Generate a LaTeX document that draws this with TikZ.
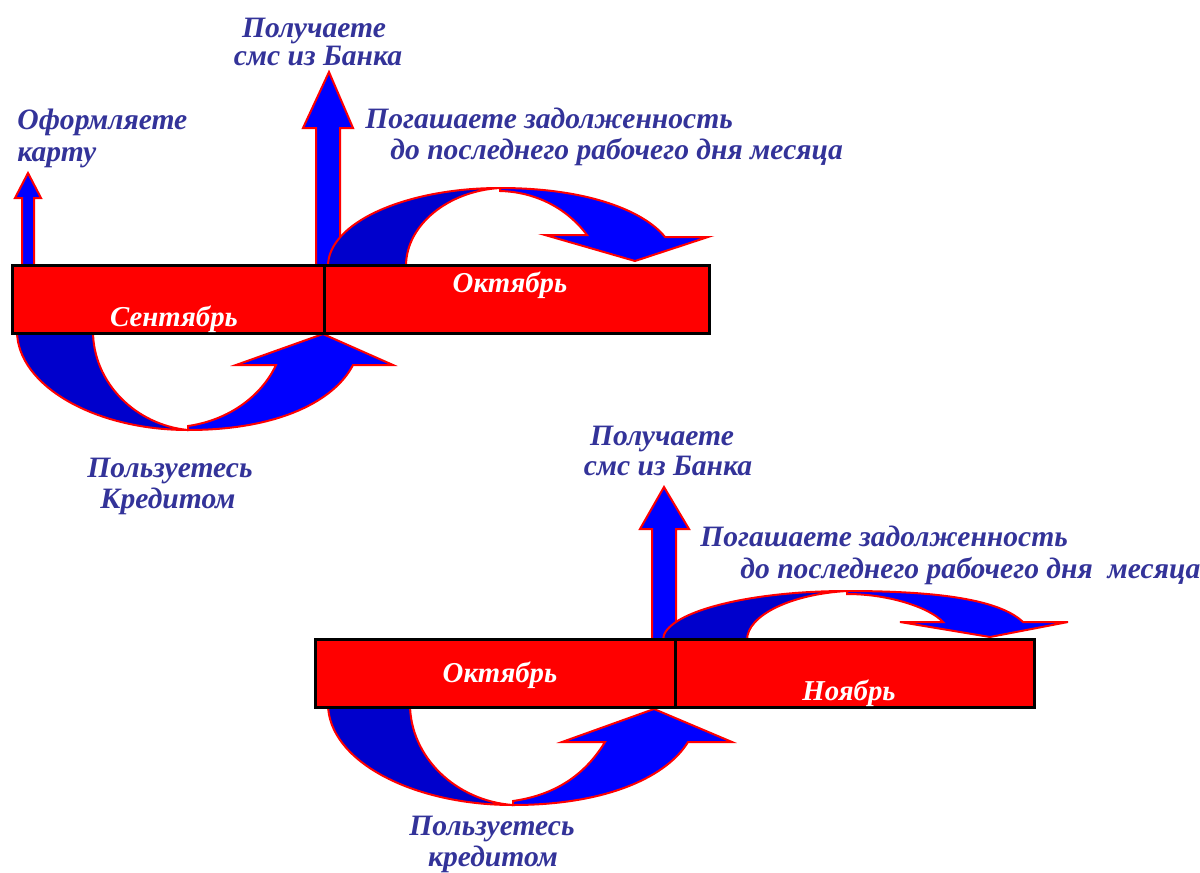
\documentclass[tikz,border=0pt]{standalone}
\usepackage{fontspec}
\setmainfont{Liberation Serif}
\usetikzlibrary{positioning}
\definecolor{barred}{HTML}{FF0000}
\definecolor{darkpart}{HTML}{0000CC}
\definecolor{brightpart}{HTML}{0000FF}
\definecolor{textblue}{HTML}{333399}
\tikzset{
    every node/.style={font=\bfseries\itshape\fontsize{14.8}{16}\selectfont,inner sep=0pt},
    month bar/.style={draw=black,line width=1.25pt,fill=barred,minimum height=34pt,anchor=north west},
    month name/.style={text=white,anchor=base,font=\bfseries\itshape\fontsize{14.4}{16}\selectfont},
    note/.style={text=textblue},
    back part/.style={fill=darkpart,draw=barred,line width=1pt},
    front part/.style={fill=brightpart,draw=barred,line width=1pt}
}

\begin{document}
\begin{tikzpicture}[x=0.5pt,y=-0.5pt]
    \useasboundingbox (0,0) rectangle (1200,873);

        % September - October
        \draw[front part] (22,266) -- (22,198) -- (15,198) -- (28,173) -- (41,198) -- (34,198) -- (34,266) -- cycle;
        \draw[front part] (316,266) -- (316,128) -- (303,128) -- (329,72) -- (353,128) -- (340,128) -- (340,266) -- cycle;
        \draw[back part] (328,266) .. controls (328,223) and (405,188) .. (500,188) .. controls (448,191) and (406,225) .. (406,266) -- cycle;
        \draw[front part] (500,188) .. controls (590,188) and (645,212) .. (665,237) -- (708,237) -- (635,261) -- (545,235) -- (587,235) .. controls (570,212) and (540,192) .. (500,191) -- cycle;
        \draw[back part] (17,331) .. controls (17,385) and (94,430) .. (188,430) .. controls (136,425) and (93,383) .. (93,331) -- cycle;
        \draw[front part] (188,430) .. controls (280,430) and (335,400) .. (353,365) -- (393,365) -- (323,334) -- (236,365) -- (276,365) .. controls (262,395) and (230,420) .. (188,426) -- cycle;

        \node[month bar, minimum width=156pt] (sep) at (11,264) {};
        \node[month bar, minimum width=192.5pt, right=-1.25pt of sep] (oct) {};
        \node[month name] (sepname) at (174,326) {Сентябрь};
        \node[month name] (octname) at (510,292) {Октябрь};

        \node[note, anchor=base west] (card1) at (17,129) {Оформляете};
        \node[note, anchor=base west] (card2) at (17,161) {карту};
        \node[note, anchor=base] (sms1) at (314,37) {Получаете};
        \node[note, anchor=base] (sms2) at (318,65) {смс из Банка};
        \node[note, anchor=base west] (pay1) at (365,128) {Погашаете задолженность};
        \node[note, anchor=base west] (pay2) at (390,159) {до последнего рабочего дня месяца};
        \node[note, anchor=base] (use1) at (170,477) {Пользуетесь};
        \node[note, anchor=base] (use2) at (168,508) {Кредитом};

        % October - November
        \draw[front part] (652,640) -- (652,529) -- (640,529) -- (664,487) -- (689,529) -- (676,529) -- (676,640) -- cycle;
        \draw[back part] (663,640) .. controls (663,613) and (746,591) .. (847,591) .. controls (792,594) and (747,615) .. (747,640) -- cycle;
        \draw[front part] (847,591) .. controls (940,591) and (1000,600) .. (1023,622) -- (1068,622) -- (990,637) -- (900,622) -- (943,622) .. controls (930,608) and (890,594) .. (847,594) -- cycle;
        \draw[back part] (328,704) .. controls (328,760) and (411,805) .. (513,805) .. controls (456,801) and (410,757) .. (410,704) -- cycle;
        \draw[front part] (513,805) .. controls (610,805) and (668,775) .. (688,742) -- (732,742) -- (654,709) -- (562,742) -- (605,742) .. controls (585,775) and (555,795) .. (513,801) -- cycle;

        \node[month bar, minimum width=180pt] (oct2) at (314,638) {};
        \node[month bar, minimum width=179.5pt, right=-1.25pt of oct2] (nov) {};
        \node[month name] (oct2name) at (500,682) {Октябрь};
        \node[month name] (novname) at (849,700) {Ноябрь};

        \node[note, anchor=base] (sms3) at (662,445) {Получаете};
        \node[note, anchor=base] (sms4) at (668,475) {смс из Банка};
        \node[note, anchor=base west] (pay3) at (700,546) {Погашаете задолженность};
        \node[note, anchor=base west] (pay4) at (740,578) {до последнего рабочего дня~ месяца};
        \node[note, anchor=base] (use3) at (492,835) {Пользуетесь};
        \node[note, anchor=base] (use4) at (493,866) {кредитом};
      \end{tikzpicture}
\end{document}
